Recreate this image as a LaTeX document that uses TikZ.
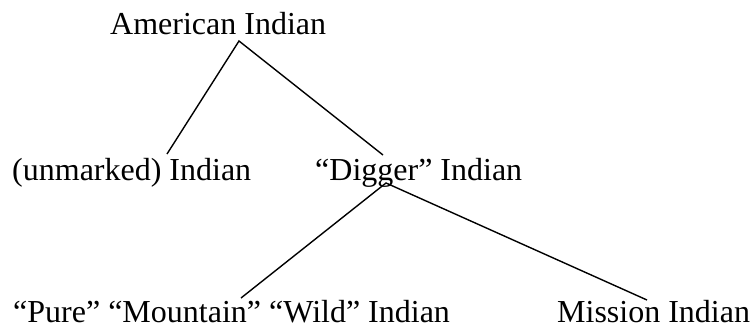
\documentclass[tikz,border=0pt]{standalone}
\usepackage{fontspec}
\setmainfont{Liberation Serif}
\usepackage{tikz}

\begin{document}
\begin{tikzpicture}[x=1pt,y=-1pt,
		every node/.style={inner sep=0pt,anchor=base west,font=\fontsize{32}{38}\selectfont},
		branch/.style={line width=1.4pt}]
		\useasboundingbox (0,0) rectangle (755,335);
		\node (amer) at (110,34) {American Indian};
		\node (unm) at (12,180) {(unmarked) Indian};
		\node (dig) at (315,180) {``Digger'' Indian};
		\node (pure) at (13,322) {``Pure'' ``Mountain'' ``Wild'' Indian};
		\node (miss) at (557,322) {Mission Indian};
		\coordinate (amer_foot) at (239,41);
		\coordinate (unm_top) at (167,154);
		\coordinate (dig_top) at (383,155);
		\coordinate (dig_foot) at (386,183);
		\coordinate (pure_top) at (241,298);
		\coordinate (miss_top) at (647,300);
		\draw[branch] (unm_top) -- (amer_foot) -- (dig_top);
		\draw[branch] (pure_top) -- (dig_foot) -- (miss_top);
\end{tikzpicture}
\end{document}
